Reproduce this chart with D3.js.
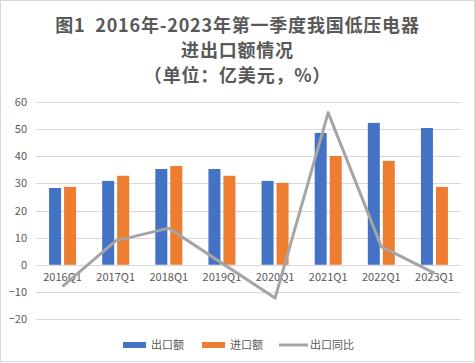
<!DOCTYPE html>
<html>
<head>
<meta charset="utf-8">
<script src="https://cdn.jsdelivr.net/npm/d3@7"></script>
<style>
  body { margin: 0; background: #fff; }
  svg { display: block; font-family: "Noto Sans CJK SC", "Noto Sans", sans-serif; }
</style>
</head>
<body>
<div id="chart"></div>
<script>
// Chart data
const quarters = ["2016Q1", "2017Q1", "2018Q1", "2019Q1", "2020Q1", "2021Q1", "2022Q1", "2023Q1"];
const exportValues = [28.3, 30.9, 35.3, 35.3, 30.9, 48.6, 52.3, 50.4];
const importValues = [28.7, 32.8, 36.4, 32.8, 30.2, 40.1, 38.3, 28.7];
const exportGrowth = [-8.0, 8.8, 13.5, 0.6, -12.3, 56.1, 6.7, -3.1];
const yTicks = [-20, -10, 0, 10, 20, 30, 40, 50, 60];
const titleLines = ["图1  2016年-2023年第一季度我国低压电器", "进出口额情况", "（单位：亿美元，%）"];
const legendItems = ["出口额", "进口额", "出口同比"];

const width = 475, height = 363;
const margin = { top: 102, right: 14, bottom: 44, left: 36 };
const textColor = "#595959";

const svg = d3.select('#chart').append('svg')
    .attr('width', width)
    .attr('height', height);

// Outer border
svg.append('rect')
    .attr('x', 0.5).attr('y', 0.5)
    .attr('width', width - 1).attr('height', height - 2)
    .attr('fill', '#fff')
    .attr('stroke', '#d9d9d9');

// Title
svg.append('text')
    .attr('text-anchor', 'middle')
    .attr('fill', textColor)
    .style('font-size', '18px')
    .style('font-weight', 'bold')
    .style('letter-spacing', '0.8px')
    .style('white-space', 'pre')
    .selectAll('tspan')
    .data(titleLines)
    .enter().append('tspan')
    .attr('x', width / 2)
    .attr('y', (d, i) => 32 + i * 25)
    .text(d => d);

// Scales
const x = d3.scaleBand()
    .domain(quarters)
    .range([margin.left, width - margin.right]);

const y = d3.scaleLinear()
    .domain([-20, 60])
    .range([319, 102]);

// Grid lines
svg.append('g')
    .selectAll('line')
    .data(yTicks)
    .enter().append('line')
    .attr('x1', margin.left)
    .attr('x2', width - margin.right)
    .attr('y1', d => Math.round(y(d)) + 0.5)
    .attr('y2', d => Math.round(y(d)) + 0.5)
    .attr('stroke', '#d9d9d9')
    .attr('stroke-width', 1);

// Y axis labels
const yAxis = d3.axisLeft(y).tickValues(yTicks).tickSize(0).tickPadding(0);
const yg = svg.append('g')
    .attr('transform', `translate(27,0)`)
    .call(yAxis);
yg.select('.domain').remove();
yg.selectAll('text')
    .attr('fill', textColor)
    .style('font-size', '11px')
    .style('font-family', '"Noto Sans CJK SC", sans-serif');

// Bars
const barW = 12;
const bars = svg.append('g');
bars.selectAll('rect.exp')
    .data(quarters)
    .enter().append('rect')
    .attr('x', d => x(d) + x.bandwidth() / 2 - 13.5)
    .attr('y', (d, i) => y(exportValues[i]))
    .attr('width', barW)
    .attr('height', (d, i) => y(0) - y(exportValues[i]))
    .attr('fill', '#4472c4');
bars.selectAll('rect.imp')
    .data(quarters)
    .enter().append('rect')
    .attr('x', d => x(d) + x.bandwidth() / 2 + 1.5)
    .attr('y', (d, i) => y(importValues[i]))
    .attr('width', barW)
    .attr('height', (d, i) => y(0) - y(importValues[i]))
    .attr('fill', '#ed7d31');

// X axis labels
const xAxis = d3.axisBottom(x).tickSize(0).tickPadding(0);
const xg = svg.append('g')
    .attr('transform', `translate(0,${y(0) + 8})`)
    .call(xAxis);
xg.select('.domain').remove();
xg.selectAll('text')
    .attr('fill', textColor)
    .style('font-size', '11px')
    .style('font-family', '"Noto Sans CJK SC", sans-serif');

// Growth line
const line = d3.line()
    .x((d, i) => x(quarters[i]) + x.bandwidth() / 2)
    .y(d => y(d));
svg.append('path')
    .datum(exportGrowth)
    .attr('d', line)
    .attr('fill', 'none')
    .attr('stroke', '#a5a5a5')
    .attr('stroke-width', 3)
    .attr('stroke-linejoin', 'round');

// Legend
const legendX = [123, 202, 279];
const legend = svg.append('g');
legendItems.forEach((name, i) => {
    const g = legend.append('g').attr('transform', `translate(${legendX[i]},345)`);
    if (i < 2) {
        g.append('rect')
            .attr('x', 0).attr('y', -3)
            .attr('width', 23).attr('height', 6)
            .attr('fill', i === 0 ? '#4472c4' : '#ed7d31');
    } else {
        g.append('line')
            .attr('x1', 0).attr('x2', 29)
            .attr('y1', 0).attr('y2', 0)
            .attr('stroke', '#a5a5a5')
            .attr('stroke-width', 3);
    }
    g.append('text')
        .attr('x', i < 2 ? 28 : 31)
        .attr('y', 4)
        .attr('fill', textColor)
        .style('font-size', '11px')
        .text(name);
});
</script>
</body>
</html>
